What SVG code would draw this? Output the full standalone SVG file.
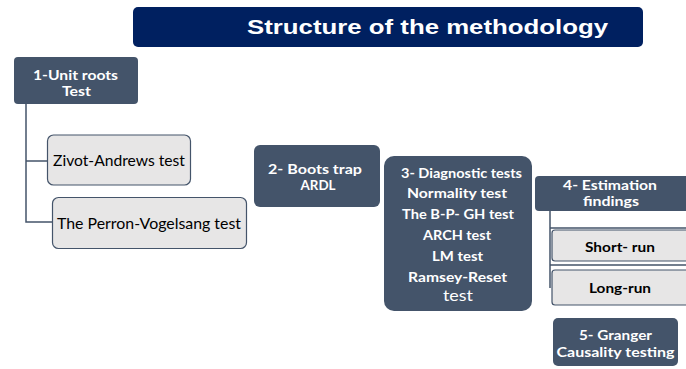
<svg xmlns="http://www.w3.org/2000/svg" width="686" height="369" viewBox="0 0 686 369">
<style>
.dark{fill:#44546a;}
.light{fill:#e7e6e6;stroke:#44546a;stroke-width:1.2;}
.wt{fill:#ffffff;font-family:Lato,"Open Sans","Liberation Sans",sans-serif;font-weight:bold;font-size:14px;text-anchor:middle;dominant-baseline:central;}
.bt{fill:#000000;font-family:Lato,"Open Sans","Liberation Sans",sans-serif;font-size:15px;text-anchor:middle;dominant-baseline:central;}
.conn{fill:none;stroke:#44546a;stroke-width:1.5;}
</style>
<rect width="686" height="369" fill="#ffffff"/>
<g id="title">
<rect x="133" y="7" width="510" height="40" rx="5" fill="#002060"/>
<text x="427.5" y="27" fill="#ffffff" font-family="'Liberation Sans',Arial,sans-serif" font-weight="bold" font-size="20" text-anchor="middle" dominant-baseline="central" textLength="361" lengthAdjust="spacingAndGlyphs">Structure of the methodology</text>
</g>
<g id="connectors">
<path class="conn" d="M26,104 V222 H53 M26,161 H48"/>
<path class="conn" d="M550,211 V288 M550,228 H686 M550,265 H686"/>
</g>
<g id="n1">
<rect class="dark" x="14" y="57" width="124" height="47" rx="4"/>
<text class="wt" x="75.5" y="74" textLength="85" lengthAdjust="spacingAndGlyphs">1-Unit roots</text>
<text class="wt" x="76.5" y="90" textLength="29" lengthAdjust="spacingAndGlyphs">Test</text>
</g>
<g id="zivot">
<rect class="light" x="47.5" y="135" width="143" height="50" rx="6"/>
<text class="bt" x="119" y="160" textLength="132" lengthAdjust="spacingAndGlyphs">Zivot-Andrews test</text>
</g>
<g id="perron">
<rect class="light" x="52.5" y="197.5" width="194" height="51" rx="6"/>
<text class="bt" x="149" y="223" textLength="184" lengthAdjust="spacingAndGlyphs">The Perron-Vogelsang test</text>
</g>
<g id="n2">
<rect class="dark" x="254" y="145" width="126" height="62" rx="6"/>
<text class="wt" x="315" y="168" textLength="94" lengthAdjust="spacingAndGlyphs">2- Boots trap</text>
<text class="wt" x="318" y="184" textLength="35" lengthAdjust="spacingAndGlyphs">ARDL</text>
</g>
<g id="n3">
<rect class="dark" x="384" y="156" width="148" height="155" rx="10"/>
<text class="wt" x="461.5" y="172" textLength="121" lengthAdjust="spacingAndGlyphs">3- Diagnostic tests</text>
<text class="wt" x="457" y="192" textLength="100" lengthAdjust="spacingAndGlyphs">Normality test</text>
<text class="wt" x="458" y="213" textLength="112" lengthAdjust="spacingAndGlyphs">The B-P- GH test</text>
<text class="wt" x="457" y="234" textLength="68" lengthAdjust="spacingAndGlyphs">ARCH test</text>
<text class="wt" x="457.5" y="255" textLength="51" lengthAdjust="spacingAndGlyphs">LM test</text>
<text class="wt" x="457.5" y="276" textLength="99" lengthAdjust="spacingAndGlyphs">Ramsey-Reset</text>
<text class="wt" x="458" y="294" style="font-weight:normal;font-size:16px" textLength="30" lengthAdjust="spacingAndGlyphs">test</text>
</g>
<g id="n4">
<rect class="dark" x="535" y="176" width="160" height="35" rx="4"/>
<text class="wt" x="610" y="185" style="font-size:13px" textLength="94" lengthAdjust="spacingAndGlyphs">4- Estimation</text>
<text class="wt" x="611" y="201" style="font-size:13px" textLength="56" lengthAdjust="spacingAndGlyphs">findings</text>
</g>
<g id="short">
<rect class="light" x="552" y="230" width="145" height="31" rx="3"/>
<text class="bt" x="620" y="246" style="font-weight:bold;font-size:14px" textLength="70" lengthAdjust="spacingAndGlyphs">Short- run</text>
</g>
<g id="long">
<rect class="light" x="552" y="270" width="145" height="35" rx="3"/>
<text class="bt" x="620" y="287" style="font-weight:bold;font-size:14px" textLength="62" lengthAdjust="spacingAndGlyphs">Long-run</text>
</g>
<g id="n5">
<rect class="dark" x="553" y="318" width="125" height="48" rx="5"/>
<text class="wt" x="615.5" y="334" textLength="73" lengthAdjust="spacingAndGlyphs">5- Granger</text>
<text class="wt" x="615.5" y="351" textLength="118" lengthAdjust="spacingAndGlyphs">Causality testing</text>
</g>
</svg>
